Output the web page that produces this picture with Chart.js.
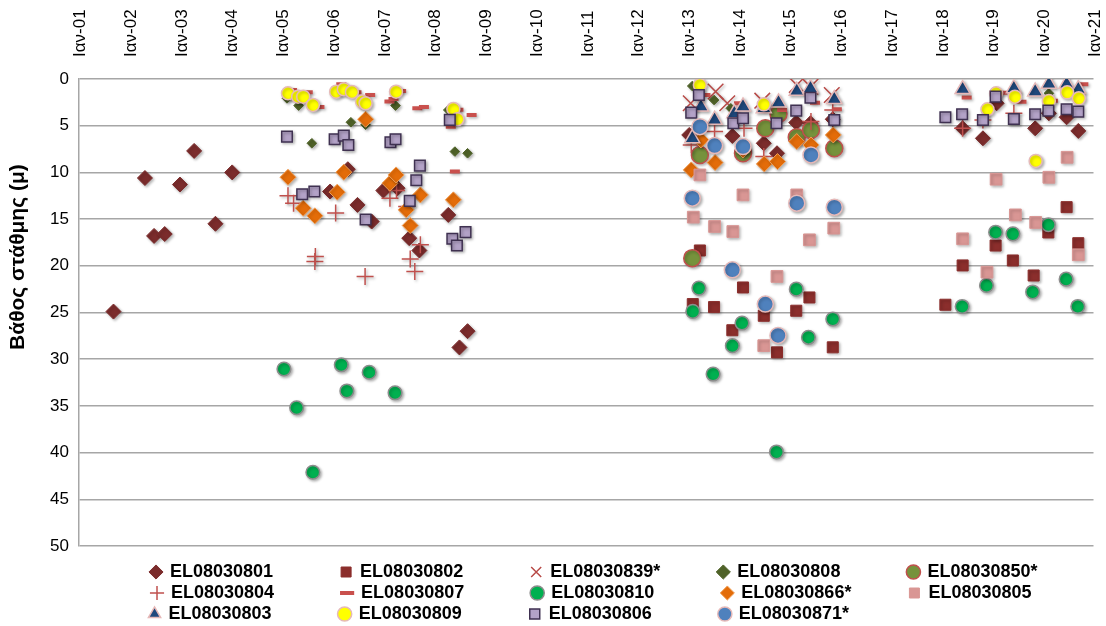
<!DOCTYPE html>
<html>
<head>
<meta charset="utf-8">
<script src="https://cdn.jsdelivr.net/npm/chart.js@4.4.1/dist/chart.umd.min.js"></script>
<style>
  html, body { margin: 0; padding: 0; background: #ffffff; }
  #wrap { width: 1106px; height: 626px; }
</style>
</head>
<body>
<div id="wrap"><canvas id="c" width="1106" height="626"></canvas></div>
<script>
// ---- tick labels (x axis, top) ----
const xTickLabels = ['Ιαν-01','Ιαν-02','Ιαν-03','Ιαν-04','Ιαν-05','Ιαν-06','Ιαν-07','Ιαν-08','Ιαν-09','Ιαν-10',
  'Ιαν-11','Ιαν-12','Ιαν-13','Ιαν-14','Ιαν-15','Ιαν-16','Ιαν-17','Ιαν-18','Ιαν-19','Ιαν-20','Ιαν-21'];
const yAxisTitle = 'Βάθος στάθμης (μ)';

// ---- series names ----
const seriesNames = ['EL08030801','EL08030802','EL08030839*','EL08030808','EL08030850*',
  'EL08030804','EL08030807','EL08030810','EL08030866*','EL08030805',
  'EL08030803','EL08030809','EL08030806','EL08030871*'];

// ---- series values: date (decimal year) and depth (m) ----
const x801 = [2001.68,2002.30,2002.48,2002.69,2002.99,2003.27,2003.69,2004.02,2005.95,2006.30,2006.49,2006.77,2007.00,2007.28,2007.51,2007.71,2008.28,2008.50,2008.66,2013.03,2013.88,2014.50,2014.76,2015.14,2015.42,2015.86,2018.42,2018.82,2019.09,2019.85,2020.12,2020.47,2020.70];
const y801 = [24.9,10.6,16.8,16.6,11.3,7.7,15.5,10.0,12.05,9.66,13.48,15.26,11.94,11.69,17.04,18.36,14.55,28.74,27.0,5.99,6.10,6.88,7.95,4.67,4.74,4.31,5.28,6.35,2.6,5.28,3.67,4.1,5.56];

const x802 = [2013.10,2013.24,2013.52,2013.88,2014.09,2014.50,2014.76,2015.14,2015.40,2015.86,2018.08,2018.42,2019.07,2019.41,2019.82,2020.11,2020.47,2020.70];
const y802 = [24.1,18.36,24.42,26.9,22.32,25.35,29.27,24.81,23.39,28.73,24.17,19.96,17.83,19.43,21.04,16.43,13.72,17.58];

const x839 = [2013.06,2013.55,2013.78,2014.47,2015.15,2015.42,2015.84];
const y839 = [2.6,1.35,2.6,2.32,0.64,0.82,1.71];

const x808 = [2005.10,2005.33,2005.59,2006.36,2006.65,2007.24,2008.28,2008.41,2008.66,2013.09,2013.52,2013.85,2020.12];
const y808 = [2.07,2.85,6.88,4.63,4.9,2.85,3.32,7.77,7.95,0.75,2.25,3.14,1.53];

const x850 = [2013.09,2013.24,2014.09,2014.53,2014.79,2015.15,2015.43,2015.89];
const y850 = [19.18,8.13,7.95,5.28,3.74,6.24,5.45,7.42];

const x804 = [2005.12,2005.23,2005.65,2005.66,2006.06,2006.64,2007.13,2007.26,2007.46,2007.53,2007.62,2007.73,2013.07,2013.53,2014.11,2014.50,2015.43,2015.86,2018.42,2018.82,2019.43];
const y804 = [12.51,13.29,19.54,19.0,14.36,21.14,12.76,11.95,13.66,19.28,20.61,17.75,7.06,5.63,5.28,8.3,4.56,3.32,5.28,4.39,3.67];

const x807 = [2005.20,2005.51,2005.74,2006.17,2006.47,2006.74,2007.12,2007.20,2007.35,2007.67,2007.80,2008.33,2008.41,2008.48,2008.74,2013.35,2014.01,2014.86,2015.51,2015.94,2018.50,2019.20,2019.58,2020.20,2020.80];
const y807 = [1.18,1.43,2.99,0.57,1.43,1.71,2.42,2.14,1.28,3.14,2.99,5.1,9.91,3.28,3.85,1.71,2.6,3.32,2.53,3.24,1.99,1.46,2.43,2.32,0.57];

const x810 = [2005.04,2005.29,2005.61,2006.17,2006.28,2006.72,2007.23,2013.10,2013.22,2013.50,2013.88,2014.07,2014.75,2015.14,2015.38,2015.86,2018.41,2018.89,2019.07,2019.41,2019.80,2020.11,2020.46,2020.69];
const y810 = [31.05,35.2,42.1,30.6,33.4,31.4,33.6,24.88,22.39,31.59,28.55,26.13,39.93,22.5,27.66,25.7,24.35,22.1,16.4,16.58,22.8,15.6,21.43,24.35];

const x866 = [2005.12,2005.42,2005.65,2006.09,2006.22,2006.65,2007.13,2007.25,2007.45,2007.53,2007.73,2008.38,2013.07,2013.26,2013.54,2014.09,2014.51,2014.77,2015.15,2015.43,2015.87];
const y866 = [10.52,13.83,14.65,12.12,9.98,4.31,11.16,10.27,14.01,15.69,12.41,12.94,9.73,6.52,8.95,7.6,9.09,8.84,6.7,7.06,5.99];

const x805 = [2013.11,2013.24,2013.53,2013.89,2014.09,2014.50,2014.76,2015.15,2015.40,2015.88,2018.42,2018.90,2019.08,2019.46,2019.86,2020.12,2020.48,2020.70];
const y805 = [14.79,10.27,15.79,16.33,12.41,28.55,21.14,12.41,17.22,15.97,17.11,20.68,10.73,14.55,15.36,10.52,8.38,18.82];

const x803 = [2013.09,2013.26,2013.53,2013.92,2014.09,2014.50,2014.79,2015.15,2015.42,2015.89,2018.42,2019.43,2019.85,2020.12,2020.47,2020.70];
const y803 = [6.35,2.96,4.38,3.67,2.96,3.14,2.53,1.28,1.0,2.17,1.1,1.0,1.35,0.53,0.53,1.1];

const x809 = [2005.12,2005.32,2005.42,2005.61,2006.07,2006.22,2006.38,2006.58,2006.65,2007.25,2008.38,2008.46,2013.24,2014.50,2018.91,2019.08,2019.45,2019.86,2020.12,2020.48,2020.71];
const y809 = [1.53,1.89,1.89,2.78,1.36,1.10,1.39,2.42,2.6,1.36,3.21,4.31,0.64,2.71,3.24,1.53,1.89,8.77,2.35,1.43,2.07];

const x806 = [2005.10,2005.40,2005.64,2006.04,2006.22,2006.31,2006.65,2007.14,2007.24,2007.52,2007.65,2007.72,2008.31,2008.36,2008.45,2008.62,2013.07,2013.22,2013.90,2014.09,2014.75,2015.14,2015.42,2015.89,2018.08,2018.41,2018.82,2019.07,2019.43,2019.85,2020.11,2020.47,2020.70];
const y806 = [6.17,12.34,12.05,6.45,6.06,7.06,15.04,6.77,6.45,13.05,10.84,9.27,4.38,17.11,17.83,16.4,3.6,1.71,4.74,4.21,4.74,3.39,2.0,4.39,4.1,3.78,4.39,1.89,4.28,3.78,3.39,3.24,3.49];

const x871 = [2013.09,2013.24,2013.53,2013.88,2014.09,2014.53,2014.78,2015.15,2015.43,2015.89];
const y871 = [12.76,5.1,7.13,20.43,7.24,24.1,27.45,13.3,8.13,13.73];

const seriesX = [x801,x802,x839,x808,x850,x804,x807,x810,x866,x805,x803,x809,x806,x871];
const seriesY = [y801,y802,y839,y808,y850,y804,y807,y810,y866,y805,y803,y809,y806,y871];

// ---- marker styles (not data) ----
const styles = [
  {ps:'rectRot', r:7.5, bg:'#7B2C2C', bc:'#7B2C2C', bw:1},
  {ps:'rect', r:7.8, bg:'#8B2E2C', bc:'#8B2E2C', bw:1},
  {ps:'crossRot', r:11, bg:'#B84A47', bc:'#B84A47', bw:1.5},
  {ps:'rectRot', r:4.8, bg:'#4F6228', bc:'#4F6228', bw:1},
  {ps:'circle', r:8.5, bg:'#76923C', bc:'#C0504D', bw:1.5},
  {ps:'cross', r:8.5, bg:'#C0504D', bc:'#C0504D', bw:1.5},
  {ps:'line', r:5, bg:'#C9504D', bc:'#C9504D', bw:4},
  {ps:'circle', r:6.8, bg:'#00B050', bc:'#8C8C8C', bw:1.5},
  {ps:'rectRot', r:8, bg:'#E36C09', bc:'#F0A05A', bw:1},
  {ps:'rect', r:8.3, bg:'#D99694', bc:'#D99694', bw:1},
  {ps:'triangle', r:8.7, bg:'#1F497D', bc:'#E6B9B8', bw:1.5},
  {ps:'circle', r:6.5, bg:'#FFFF00', bc:'#E6B9B8', bw:1.5},
  {ps:'rect', r:7.5, bg:'#B3A2C7', bc:'#3F3151', bw:1.5},
  {ps:'circle', r:8, bg:'#4F81BD', bc:'#E6B9B8', bw:1.5}
];

const datasets = seriesNames.map((name, i) => ({
  label: name,
  data: seriesX[i].map((xv, k) => ({x: xv, y: seriesY[i][k]})),
  pointStyle: styles[i].ps,
  pointRadius: styles[i].r,
  pointHoverRadius: styles[i].r,
  pointBackgroundColor: styles[i].bg,
  pointBorderColor: styles[i].bc,
  pointBorderWidth: styles[i].bw,
  backgroundColor: styles[i].bg,
  borderColor: styles[i].bc,
  borderWidth: styles[i].bw,
  showLine: false,
  order: seriesNames.length - i
}));

const LEG_FONT = {family: 'Liberation Sans', size: 18, weight: 'bold'};
const COL_PITCH_TEXT = 167;   // text+padding width for columns 1-4
const LAST_COL_TEXT = 110;    // width for column 5
const BOXW = 10, LEG_PAD = 3;
const LEGEND_SHIFT = 8;

const shadowPlugin = {
  id: 'markerShadow',
  beforeDatasetsDraw(chart) {
    const ctx = chart.ctx;
    ctx.save();
    ctx.shadowColor = 'rgba(0,0,0,0.30)';
    ctx.shadowBlur = 3;
    ctx.shadowOffsetX = 1.5;
    ctx.shadowOffsetY = 1.5;
  },
  afterDatasetsDraw(chart) { chart.ctx.restore(); }
};

const legendShiftPlugin = {
  id: 'legendShift',
  afterLayout(chart) {
    if (chart.legend) { chart.legend.left += LEGEND_SHIFT; chart.legend.right += LEGEND_SHIFT; }
  }
};

const chart = new Chart(document.getElementById('c'), {
  type: 'scatter',
  data: { datasets },
  plugins: [shadowPlugin, legendShiftPlugin],
  options: {
    responsive: false,
    animation: false,
    layout: { padding: { left: 0, right: 8, top: 0, bottom: 0 } },
    plugins: {
      tooltip: { enabled: false },
      legend: {
        position: 'bottom',
        fullSize: false,
        align: 'center',
        maxHeight: 80,
        title: { display: true, text: '', font: {size: 10}, padding: {top: 1, bottom: 1} },
        labels: {
          usePointStyle: true,
          boxWidth: BOXW,
          boxHeight: 10,
          padding: LEG_PAD,
          color: '#000000',
          font: LEG_FONT,
          sort: (a, b) => a.datasetIndex - b.datasetIndex,
          generateLabels(chart) {
            const items = Chart.defaults.plugins.legend.labels.generateLabels(chart);
            items.sort((a, b) => a.datasetIndex - b.datasetIndex);
            const ctx = chart.ctx;
            ctx.save();
            ctx.font = 'bold 18px "Liberation Sans"';
            const sp = ctx.measureText(' ').width;
            items.forEach((it, idx) => {
              const col = idx % 5;
              const isLastInList = idx === items.length - 1;
              let target = col < 4 ? COL_PITCH_TEXT : LAST_COL_TEXT;
              if (isLastInList && col < 4) {
                target = COL_PITCH_TEXT + (4 - col - 1) * (COL_PITCH_TEXT + BOXW + 9 + LEG_PAD) + LEG_PAD + BOXW + 9 + LAST_COL_TEXT;
              }
              const w = ctx.measureText(it.text).width;
              const n = Math.max(0, Math.round((target - w) / sp));
              it.text = it.text + ' '.repeat(n);
            });
            ctx.restore();
            return items;
          }
        }
      }
    },
    scales: {
      x: {
        type: 'linear',
        position: 'top',
        min: 2001,
        max: 2021,
        grid: { display: false },
        border: { display: false },
        ticks: {
          stepSize: 1,
          autoSkip: false,
          minRotation: 90,
          maxRotation: 90,
          padding: 14,
          labelOffset: 22,
          color: '#000000',
          font: { family: 'Liberation Sans', size: 17 },
          callback: (v) => xTickLabels[Math.round(v) - 2001]
        },
        afterFit(s) { s.height = 79; s.paddingLeft = 0; s.paddingRight = 0; }
      },
      y: {
        reverse: true,
        min: 0,
        max: 50,
        grid: { color: '#A6A6A6', lineWidth: 1.5, drawTicks: false },
        border: { display: true, color: '#A6A6A6', width: 1.5 },
        ticks: {
          stepSize: 5,
          padding: 10,
          color: '#000000',
          font: { family: 'Liberation Sans', size: 17 }
        },
        title: {
          display: true,
          text: ' '.repeat(19) + yAxisTitle,
          color: '#000000',
          font: { family: 'Liberation Sans', size: 21, weight: 'bold' },
          padding: { top: 6, bottom: 0 }
        },
        afterFit(s) { s.width = 79; }
      }
    }
  }
});
</script>
</body>
</html>
